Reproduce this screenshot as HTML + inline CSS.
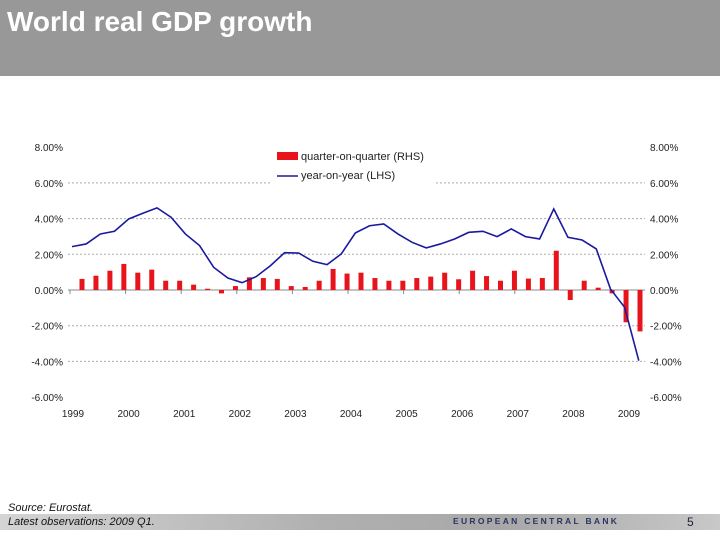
<!DOCTYPE html>
<html><head><meta charset="utf-8"><style>
body{margin:0;width:720px;height:540px;overflow:hidden;background:#fff;font-family:"Liberation Sans",sans-serif;position:relative}
#hdr{position:absolute;left:0;top:0;width:720px;height:76px;background:#989898}
#title{position:absolute;left:7px;top:6px;font-size:28px;font-weight:bold;color:#fff}
#ftbar{position:absolute;left:0;top:514px;width:720px;height:16px;background:linear-gradient(90deg,#d4d4d4 0%,#b0b0b0 45%,#a8a8a8 70%,#c8c8c8 100%)}
.ft{position:absolute;font-size:11px;font-style:italic;color:#111}
#ecb{position:absolute;left:453px;top:516px;font-size:8.5px;font-weight:bold;letter-spacing:2.3px;color:#2a3560}
#pg{position:absolute;left:687px;top:515px;font-size:12px;color:#223}
svg{position:absolute;left:0;top:0}
</style></head><body>
<div id="hdr"><div id="title">World real GDP growth</div></div>
<svg id="chart" width="720" height="540"></svg>
<div id="ftbar"></div>
<div class="ft" style="left:8px;top:502px">Source: Eurostat.</div>
<div class="ft" style="left:8px;top:516px">Latest observations: 2009 Q1.</div>
<div id="ecb">EUROPEAN CENTRAL BANK</div>
<div id="pg">5</div>
<script>
const yTicks=[8,6,4,2,0,-2,-4,-6];
const yearLabels=["1999","2000","2001","2002","2003","2004","2005","2006","2007","2008","2009"];
const qoq=[0.62,0.80,1.08,1.46,0.97,1.14,0.52,0.52,0.30,0.07,-0.19,0.22,0.71,0.67,0.62,0.22,0.17,0.52,1.18,0.92,0.97,0.67,0.52,0.52,0.67,0.75,0.97,0.60,1.08,0.78,0.52,1.08,0.64,0.67,2.2,-0.56,0.52,0.13,-0.19,-1.81,-2.32];
const yoy=[2.43,2.58,3.14,3.29,3.98,4.30,4.60,4.07,3.14,2.49,1.27,0.67,0.41,0.75,1.36,2.09,2.07,1.61,1.42,2.02,3.2,3.6,3.7,3.14,2.67,2.36,2.58,2.86,3.23,3.29,2.99,3.42,2.99,2.86,4.54,2.95,2.80,2.30,0.06,-0.97,-3.96];
const NS="http://www.w3.org/2000/svg";
const svg=document.getElementById('chart');
const y=v=>290-v*17.85;
const xBar=i=>82+i*13.95;
const xLine=i=>72+i*14.17;
const xYear=i=>73+i*55.6;
function mk(t,a){const e=document.createElementNS(NS,t);for(const k in a)e.setAttribute(k,a[k]);svg.appendChild(e);return e;}
yTicks.forEach(v=>{
  if(v<8&&v>-6){const g=mk('line',{x1:68,x2:645,y1:y(v),y2:y(v),stroke:v===0?'#888':'#aaa','stroke-width':1,'stroke-dasharray':v===0?'':'2,2'});
  
  }
  const s=(v>=0?'':'-')+Math.abs(v).toFixed(2)+'%';
  const l=mk('text',{x:63,y:y(v)+4,'text-anchor':'end','font-size':10,fill:'#222'});l.textContent=s;
  
  
  const r=mk('text',{x:650,y:y(v)+4,'font-size':10,fill:'#222'});r.textContent=s;
  
  
});
yearLabels.forEach((t,i)=>{
  const x=xYear(i);
  const tk=mk('line',{x1:x-3,x2:x-3,y1:290,y2:294,stroke:'#888'});
  
  
  const l=mk('text',{x:x,y:417,'text-anchor':'middle','font-size':10,fill:'#222'});l.textContent=t;
  
  
});
qoq.forEach((v,i)=>{
  const b=mk('rect',{x:xBar(i)-2.5,y:Math.min(y(v),y(0)),width:5,height:Math.abs(y(v)-y(0)),fill:'#e8141c'});
  
  
});
const ln=mk('polyline',{points:yoy.map((v,i)=>xLine(i)+','+y(v)).join(' '),fill:'none',stroke:'#1a1aa0','stroke-width':1.6});


const lg=mk('rect',{x:270,y:147,width:165,height:38,fill:'#fff'});


const lr=mk('rect',{x:277,y:152,width:21,height:8,fill:'#e8141c'});


const ll=mk('line',{x1:277,x2:298,y1:176,y2:176,stroke:'#1a1aa0','stroke-width':1.5});


const t1=mk('text',{x:301,y:160,'font-size':11,fill:'#222'});t1.textContent='quarter-on-quarter (RHS)';


const t2=mk('text',{x:301,y:179,'font-size':11,fill:'#222'});t2.textContent='year-on-year (LHS)';


</script>
</body></html>
